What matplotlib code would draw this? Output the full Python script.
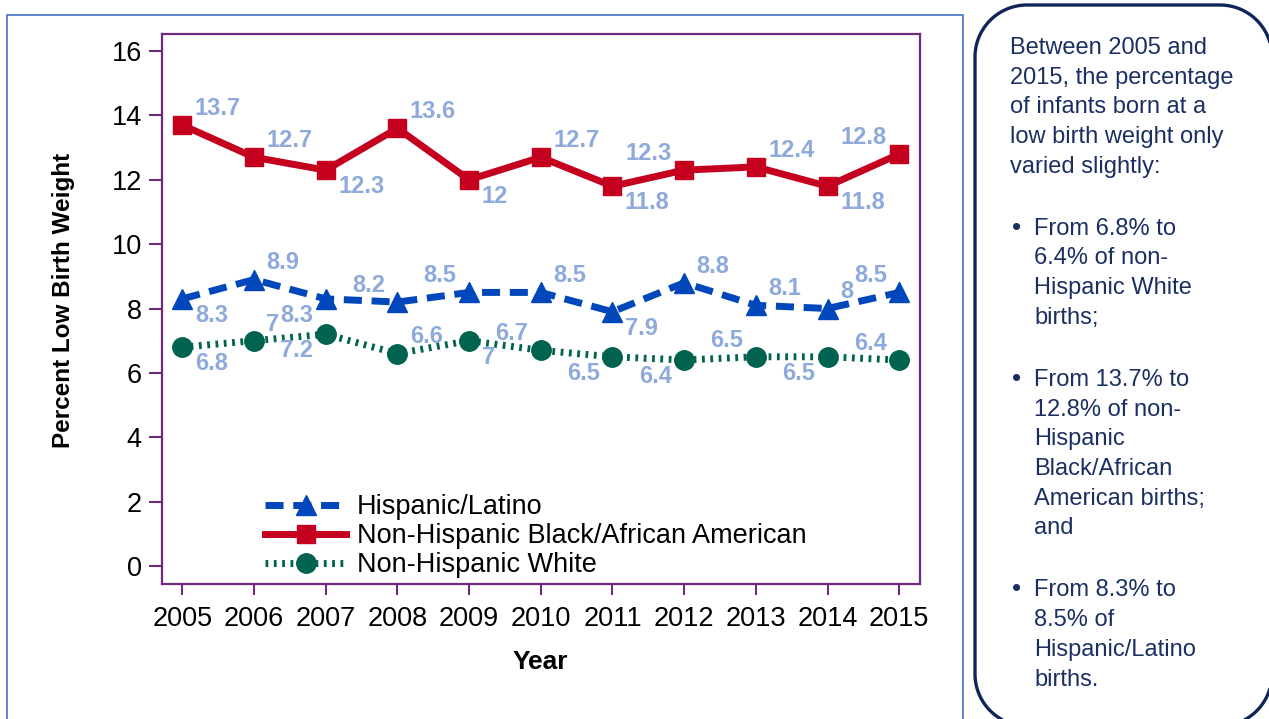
import numpy as np
import matplotlib
matplotlib.use('Agg')
import matplotlib.pyplot as plt
from matplotlib.patches import Rectangle, Polygon
from matplotlib.transforms import IdentityTransform

## -- data
years = list(range(2005, 2016))
hispanic = [8.3, 8.9, 8.3, 8.2, 8.5, 8.5, 7.9, 8.8, 8.1, 8.0, 8.5]
black = [13.7, 12.7, 12.3, 13.6, 12.0, 12.7, 11.8, 12.3, 12.4, 11.8, 12.8]
white = [6.8, 7.0, 7.2, 6.6, 7.0, 6.7, 6.5, 6.4, 6.5, 6.5, 6.4]
series_names = ["Hispanic/Latino", "Non-Hispanic Black/African American", "Non-Hispanic White"]
y_ticks = [0, 2, 4, 6, 8, 10, 12, 14, 16]

# where each value label sits: u=above / l=below, r=right / l=left
hisp_pos = ['lr', 'ur', 'll', 'ul', 'ul', 'ur', 'lr', 'ur', 'ur', 'ur', 'ul']
black_pos = ['ur', 'ur', 'lr', 'ur', 'lr', 'ur', 'lr', 'ul', 'ur', 'lr', 'ul']
white_pos = ['lr', 'ur', 'll', 'ur', 'lr', 'ul', 'll', 'll', 'ul', 'll', 'ul']

intro = ["Between 2005 and", "2015, the percentage", "of infants born at a",
         "low birth weight only", "varied slightly:"]
bullets = [["From 6.8% to", "6.4% of non-", "Hispanic White", "births;"],
           ["From 13.7% to", "12.8% of non-", "Hispanic", "Black/African",
            "American births;", "and"],
           ["From 8.3% to", "8.5% of", "Hispanic/Latino", "births."]]

W, H = 1269, 719
plt.rcParams['font.family'] = ['Liberation Sans', 'DejaVu Sans']

purple = '#6E2A7E'
c_hisp = '#0047BB'
c_black = '#C4001E'
c_white = '#00634F'
c_lab = '#8EA9DB'
navy = '#1B2F63'

fig = plt.figure(figsize=(W / 100.0, H / 100.0), dpi=100)
ax = fig.add_axes([162.0 / W, 1 - 584.0 / H, (920.0 - 162) / W, (584.0 - 34) / H])

l1, = ax.plot(years, hispanic, color=c_hisp, lw=5, linestyle=(0, (2.6, 1.4)),
              dash_capstyle='butt', marker='^', markersize=15, label=series_names[0])
l2, = ax.plot(years, black, color=c_black, lw=5, marker='s', markersize=13,
              label=series_names[1])
l3, = ax.plot(years, white, color=c_white, lw=5, linestyle=(0, (0.4, 0.8)),
              dash_capstyle='butt', marker='o', markersize=14, label=series_names[2])

## value labels
def put_labels(vals, pos):
	for x, v, p in zip(years, vals, pos):
		dy = 12 if p[0] == 'u' else -12
		dx = 9 if p[1] == 'r' else -9
		ax.annotate(f"{v:g}", (x, v), xytext=(dx, dy), textcoords='offset points',
		            ha='left' if p[1] == 'r' else 'right', va='center',
		            color=c_lab, fontsize=17, fontweight='bold', zorder=5)

put_labels(hispanic, hisp_pos)
put_labels(black, black_pos)
put_labels(white, white_pos)

ax.set_xlim(2004.717, 2015.29)
ax.set_ylim(-0.56, 16.53)
ax.set_xticks(years)
ax.set_yticks(y_ticks)
ax.tick_params(axis='both', colors=purple, labelcolor='black', labelsize=19.5, width=1.5)
ax.tick_params(axis='y', length=9.5, pad=5)
ax.tick_params(axis='x', length=8, pad=8)
for s in ax.spines.values():
	s.set_color(purple)
	s.set_linewidth(1.6)

leg = ax.legend(handles=[l1, l2, l3], loc='lower left', bbox_to_anchor=(0.136, 0.01),
                frameon=False, fontsize=19.5, handlelength=3.0, handletextpad=0.4,
                labelspacing=0.12, borderpad=0, borderaxespad=0, numpoints=1)

fig.text(64.0 / W, 1 - 300.0 / H, "Percent Low Birth Weight", rotation=90,
         ha='center', va='center', fontsize=17.5, fontweight='bold')
fig.text(540.0 / W, 1 - 669.0 / H, "Year", ha='center', va='baseline',
         fontsize=19, fontweight='bold')

## frames (pixel coords, y measured from the top)
fig.add_artist(Rectangle((7, -10), 956, H - 15 + 10, transform=IdentityTransform(),
                         fill=False, ec='#4472C4', lw=1.2))

def rounded_box(x0, y0, x1, y1, r):
	t = np.linspace(0, np.pi / 2, 30)
	pts = []
	# corners: top-left, top-right, bottom-right, bottom-left (screen y down)
	for cx, cy, a0 in [(x0 + r, y0 + r, np.pi), (x1 - r, y0 + r, 1.5 * np.pi),
	                   (x1 - r, y1 - r, 0.0), (x0 + r, y1 - r, 0.5 * np.pi)]:
		for a in a0 + t:
			pts.append((cx + r * np.cos(a), H - (cy + r * np.sin(a))))
	return pts

fig.add_artist(Polygon(rounded_box(975, 5, 1272, 726, 52), closed=True,
                       transform=IdentityTransform(), fill=False, ec='#0F2557', lw=2.4))

## side text
pitch = 29.7
base = 54.0
for t in intro:
	fig.text(1010.0 / W, 1 - base / H, t, color=navy, fontsize=17, va='baseline')
	base += pitch
for b in bullets:
	base += 32.3
	fig.text(1012.0 / W, 1 - base / H, u"\u2022", color=navy, fontsize=19, va='baseline')
	for t in b:
		fig.text(1034.0 / W, 1 - base / H, t, color=navy, fontsize=17, va='baseline')
		base += pitch

plt.savefig("out.png", dpi=100)
